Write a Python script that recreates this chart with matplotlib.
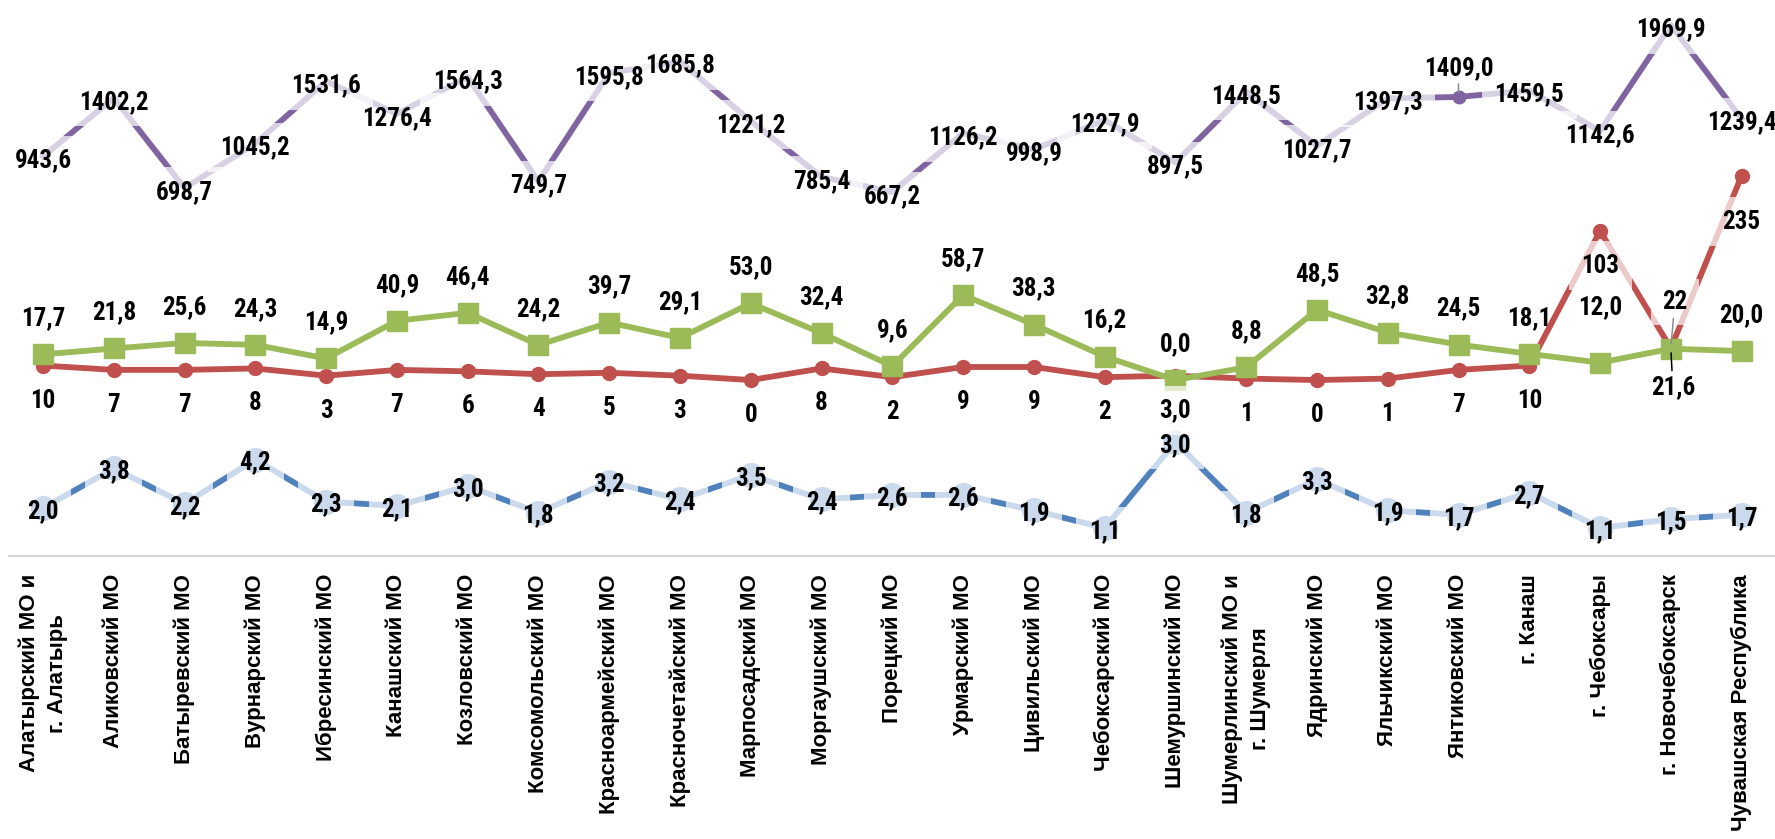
import numpy as np
import matplotlib
matplotlib.use("Agg")
import matplotlib.pyplot as plt
from matplotlib import font_manager as fm

categories = [
    "Алатырский МО и\nг. Алатырь", "Аликовский МО", "Батыревский МО", "Вурнарский МО",
    "Ибресинский МО", "Канашский МО", "Козловский МО", "Комсомольский МО",
    "Красноармейский МО", "Красночетайский МО", "Марпосадский МО", "Моргаушский МО",
    "Порецкий МО", "Урмарский МО", "Цивильский МО", "Чебоксарский МО",
    "Шемуршинский МО", "Шумерлинский МО и\nг. Шумерля", "Ядринский МО", "Яльчикский МО",
    "Янтиковский МО", "г. Канаш", "г. Чебоксары", "г. Новочебоксарск", "Чувашская Республика",
]

purple_values = [943.6, 1402.2, 698.7, 1045.2, 1531.6, 1276.4, 1564.3, 749.7, 1595.8, 1685.8,
                 1221.2, 785.4, 667.2, 1126.2, 998.9, 1227.9, 897.5, 1448.5, 1027.7, 1397.3,
                 1409.0, 1459.5, 1142.6, 1969.9, 1239.4]
green_values = [17.7, 21.8, 25.6, 24.3, 14.9, 40.9, 46.4, 24.2, 39.7, 29.1, 53.0, 32.4, 9.6,
                58.7, 38.3, 16.2, 0.0, 8.8, 48.5, 32.8, 24.5, 18.1, 12.0, 21.6, 20.0]
red_values = [10, 7, 7, 8, 3, 7, 6, 4, 5, 3, 0, 8, 2, 9, 9, 2, 3, 1, 0, 1, 7, 10, 103, 22, 141]
red_labels = ["10", "7", "7", "8", "3", "7", "6", "4", "5", "3", "0", "8", "2", "9", "9", "2",
              "3,0", "1", "0", "1", "7", "10", "103", "22", "235"]
blue_values = [2.0, 3.8, 2.2, 4.2, 2.3, 2.1, 3.0, 1.8, 3.2, 2.4, 3.5, 2.4, 2.6, 2.6, 1.9, 1.1,
               5.0, 1.8, 3.3, 1.9, 1.7, 2.7, 1.1, 1.5, 1.7]
blue_labels = ["2,0", "3,8", "2,2", "4,2", "2,3", "2,1", "3,0", "1,8", "3,2", "2,4", "3,5", "2,4",
               "2,6", "2,6", "1,9", "1,1", "3,0", "1,8", "3,3", "1,9", "1,7", "2,7", "1,1", "1,5", "1,7"]


def fmt(v):
    return f"{v:.1f}".replace(".", ",")


names = {f.name for f in fm.fontManager.ttflist}
NARROW = next((n for n in ["Liberation Sans Narrow", "Arial Narrow", "Roboto Condensed"] if n in names),
              "Liberation Sans")
LBL_SIZE = 18 if NARROW != "Liberation Sans" else 15.5

PURPLE = "#8064A2"
GREEN = "#9BBB59"
RED = "#C0504D"
BLUE = "#4F81BD"
LW = 4.2
AXIS_GREY = "#D9D9D9"

W, H = 1775, 839
fig = plt.figure(figsize=(W / 100, H / 100), dpi=100)
axis_y = 556
left_px, right_px = 7.6, 1777
ax = fig.add_axes([left_px / W, (H - axis_y) / H, (right_px - left_px) / W, axis_y / H])
ax_p = ax.twinx()
ax_b = ax.twinx()

x = np.arange(len(categories))
ax.set_xlim(-0.5, len(categories) - 0.5)

ax.plot(x, red_values, color=RED, lw=LW, marker="o", ms=10, zorder=2, solid_joinstyle="round")
ax.plot(x, green_values, color=GREEN, lw=LW, marker="s", ms=14, zorder=3, solid_joinstyle="round")
ax.set_ylim(-121.5, 262.4)

ax_p.plot(x, purple_values, color=PURPLE, lw=LW, marker="o", ms=9, markevery=[20], solid_joinstyle="round")
ax_p.set_ylim(-2172, 2165)

ax_b.plot(x, blue_values, color=BLUE, lw=LW, marker="o", ms=17, solid_joinstyle="round")
ax_b.set_ylim(-0.169, 25.03)

for a in (ax, ax_p, ax_b):
    for s in ("top", "right", "left", "bottom"):
        a.spines[s].set_visible(False)
    a.set_yticks([])
    a.patch.set_visible(False)
# category axis line drawn above the label boxes
ax_b.plot([0, 1], [0, 0], transform=ax_b.transAxes, color=AXIS_GREY, lw=1.6,
          zorder=12, clip_on=False, solid_capstyle="butt")

ax.set_xticks(x)
ax.set_xticklabels(categories, rotation=90, fontsize=16, fontweight="bold",
                   family=["Liberation Sans", "DejaVu Sans"], va="top", ha="center",
                   multialignment="center", linespacing=1.45)
ax.tick_params(axis="x", length=0, pad=13)

PX = 0.72  # points per pixel at dpi=100
BOX_FC = (1, 1, 1, 0.7)
font = dict(fontsize=LBL_SIZE, fontweight="bold", family=[NARROW, "DejaVu Sans"],
            ha="center", va="center", annotation_clip=False)


def label(text, xy, trans, dx, dy, boxed=True, pad=0.5, leader=None):
    off = (dx * PX, dy * PX)
    if boxed:
        # translucent box (drawn first, text invisible)
        ax_b.annotate(text, xy=xy, xycoords=trans, xytext=off, textcoords="offset points",
                      color=(0, 0, 0, 0), zorder=9,
                      bbox=dict(boxstyle=f"square,pad={pad}", fc=BOX_FC, ec="none"), **font)
    kw = {}
    if leader is not None:
        kw["arrowprops"] = dict(arrowstyle="-", color=leader, lw=1.1, shrinkA=1, shrinkB=3)
    ax_b.annotate(text, xy=xy, xycoords=trans, xytext=off, textcoords="offset points",
                  color="black", zorder=11, **font, **kw)


# purple labels (centered on points)
for i, v in enumerate(purple_values):
    if i == 20:
        label(fmt(v), (i, v), ax_p.transData, 0, 29, leader="#8C8C8C", pad=0.4)
    else:
        label(fmt(v), (i, v), ax_p.transData, 0, -4, pad=0.5)

# blue labels (centered on points)
for i, (v, t) in enumerate(zip(blue_values, blue_labels)):
    label(t, (i, v), ax_b.transData, 0, -3, pad=0.5)

# green labels (above)
for i, v in enumerate(green_values):
    if i == 23:
        label(fmt(v), (i, v), ax.transData, 2, -38, leader="black", pad=0.35)
    else:
        dy = 55 if i == 22 else 36
        label(fmt(v), (i, v), ax.transData, 0, dy, boxed=False)

# red labels (below)
for i, (v, t) in enumerate(zip(red_values, red_labels)):
    if i == 23:
        label(t, (i, v), ax.transData, 4, 46, leader="#8C8C8C", pad=0.45)
    else:
        dy = -46 if i == 24 else -35
        label(t, (i, v), ax.transData, 0, dy, pad=0.5)

fig.savefig("out.png", dpi=100)
